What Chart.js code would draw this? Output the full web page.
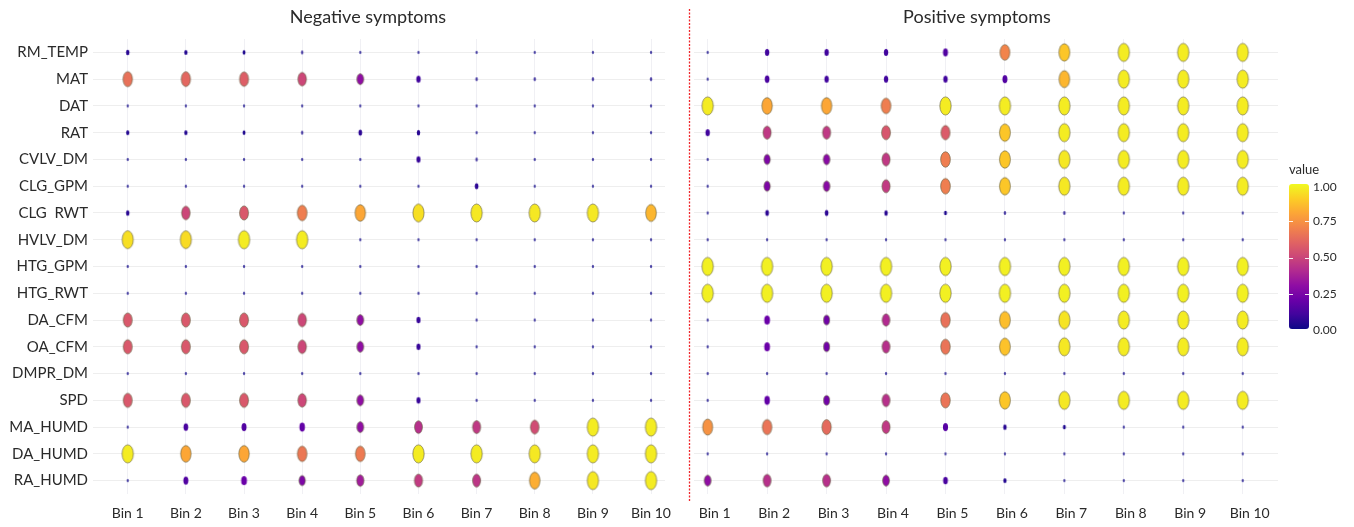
<!DOCTYPE html>
<html>
<head>
<meta charset="utf-8">
<script src="https://cdn.jsdelivr.net/npm/chart.js@4.4.1/dist/chart.umd.min.js"></script>
<style>
  html, body { margin: 0; padding: 0; background: #ffffff; }
  #wrap { position: relative; width: 1354px; height: 527px; }
  #wrap canvas { position: absolute; left: 0; top: 0; }
</style>
</head>
<body>
<div id="wrap">
  <canvas id="neg" width="1354" height="527"></canvas>
  <canvas id="pos" width="1354" height="527"></canvas>
</div>
<script>
// Bins along the x axis and monitored signals down the y axis
const bins = ['Bin 1', 'Bin 2', 'Bin 3', 'Bin 4', 'Bin 5', 'Bin 6', 'Bin 7', 'Bin 8', 'Bin 9', 'Bin 10'];
const features = ['RM_TEMP', 'MAT', 'DAT', 'RAT', 'CVLV_DM', 'CLG_GPM', 'CLG  RWT', 'HVLV_DM',
  'HTG_GPM', 'HTG_RWT', 'DA_CFM', 'OA_CFM', 'DMPR_DM', 'SPD', 'MA_HUMD', 'DA_HUMD', 'RA_HUMD'];
const panelTitles = ['Negative symptoms', 'Positive symptoms'];
const colorbarTicks = [0, 0.25, 0.5, 0.75, 1];

// One row per signal (same order as features), one value per bin
const negativeValues = [
  [0.05, 0.04, 0.03, 0.02, 0.01, 0.01, 0.01, 0.01, 0.01, 0.01],
  [0.64, 0.61, 0.58, 0.50, 0.30, 0.10, 0.02, 0.02, 0.02, 0.02],
  [0.01, 0.01, 0.01, 0.01, 0.01, 0.01, 0.01, 0.01, 0.01, 0.01],
  [0.04, 0.04, 0.03, 0.02, 0.06, 0.05, 0.01, 0.01, 0.01, 0.01],
  [0.01, 0.01, 0.01, 0.01, 0.01, 0.08, 0.02, 0.01, 0.01, 0.01],
  [0.01, 0.01, 0.01, 0.01, 0.01, 0.01, 0.06, 0.01, 0.01, 0.01],
  [0.05, 0.50, 0.56, 0.68, 0.80, 0.94, 0.96, 0.96, 0.96, 0.84],
  [0.94, 0.93, 0.97, 0.97, 0.01, 0.01, 0.01, 0.01, 0.01, 0.01],
  [0.01, 0.01, 0.01, 0.01, 0.01, 0.01, 0.01, 0.01, 0.01, 0.01],
  [0.01, 0.01, 0.01, 0.01, 0.01, 0.01, 0.01, 0.01, 0.01, 0.01],
  [0.56, 0.56, 0.56, 0.50, 0.30, 0.08, 0.01, 0.01, 0.01, 0.01],
  [0.56, 0.56, 0.56, 0.50, 0.30, 0.08, 0.01, 0.01, 0.01, 0.01],
  [0.01, 0.01, 0.01, 0.01, 0.01, 0.01, 0.01, 0.01, 0.01, 0.01],
  [0.56, 0.56, 0.56, 0.50, 0.30, 0.08, 0.01, 0.01, 0.01, 0.01],
  [0.01, 0.12, 0.14, 0.18, 0.30, 0.42, 0.45, 0.52, 0.97, 0.97],
  [0.97, 0.80, 0.80, 0.66, 0.67, 0.97, 0.97, 0.96, 0.97, 0.97],
  [0.01, 0.14, 0.20, 0.25, 0.35, 0.46, 0.44, 0.82, 0.96, 0.97]
];

const positiveValues = [
  [0.01, 0.10, 0.10, 0.10, 0.14, 0.70, 0.88, 0.97, 0.97, 0.97],
  [0.01, 0.12, 0.10, 0.10, 0.10, 0.14, 0.84, 0.97, 0.97, 0.97],
  [0.97, 0.80, 0.80, 0.68, 0.97, 0.97, 0.97, 0.97, 0.97, 0.97],
  [0.10, 0.45, 0.45, 0.55, 0.57, 0.88, 0.97, 0.97, 0.97, 0.97],
  [0.01, 0.25, 0.28, 0.45, 0.68, 0.88, 0.96, 0.97, 0.97, 0.97],
  [0.01, 0.25, 0.28, 0.46, 0.68, 0.88, 0.96, 0.97, 0.97, 0.97],
  [0.01, 0.06, 0.06, 0.05, 0.03, 0.02, 0.02, 0.01, 0.01, 0.01],
  [0.01, 0.01, 0.01, 0.01, 0.01, 0.01, 0.01, 0.01, 0.01, 0.01],
  [0.98, 0.98, 0.98, 0.98, 0.98, 0.98, 0.98, 0.98, 0.98, 0.98],
  [0.98, 0.98, 0.98, 0.98, 0.98, 0.98, 0.98, 0.98, 0.98, 0.98],
  [0.01, 0.20, 0.22, 0.40, 0.64, 0.86, 0.95, 0.97, 0.97, 0.97],
  [0.01, 0.20, 0.22, 0.42, 0.65, 0.87, 0.96, 0.97, 0.97, 0.97],
  [0.01, 0.01, 0.01, 0.01, 0.01, 0.01, 0.01, 0.01, 0.01, 0.01],
  [0.01, 0.18, 0.22, 0.42, 0.65, 0.88, 0.96, 0.97, 0.97, 0.97],
  [0.74, 0.65, 0.62, 0.45, 0.15, 0.05, 0.03, 0.01, 0.01, 0.01],
  [0.01, 0.01, 0.01, 0.01, 0.01, 0.01, 0.01, 0.01, 0.01, 0.01],
  [0.30, 0.42, 0.42, 0.30, 0.12, 0.04, 0.01, 0.01, 0.01, 0.01]
];

// Plasma colour map
const plasma = ['#0d0887', '#41049d', '#6a00a8', '#8f0da4', '#b12a90', '#cc4778',
  '#e16462', '#f2844b', '#fca636', '#fcce25', '#f0f921'];

function hexToRgb(h) {
  return [parseInt(h.slice(1, 3), 16), parseInt(h.slice(3, 5), 16), parseInt(h.slice(5, 7), 16)];
}
function plasmaColor(v) {
  v = Math.max(0, Math.min(1, v));
  const p = v * (plasma.length - 1);
  const i = Math.min(Math.floor(p), plasma.length - 2);
  const t = p - i;
  const a = hexToRgb(plasma[i]), b = hexToRgb(plasma[i + 1]);
  const c = a.map((x, k) => Math.round(x + (b[k] - x) * t));
  return 'rgb(' + c.join(',') + ')';
}

// Elliptical marker, size and colour both follow the value
const markerCache = {};
function marker(v) {
  const key = v.toFixed(3);
  if (markerCache[key]) return markerCache[key];
  const rx = 0.55 + 5.2 * Math.sqrt(v);
  const ry = 0.9 + 8.3 * Math.sqrt(v);
  const c = document.createElement('canvas');
  c.width = Math.ceil(rx * 2 + 3);
  c.height = Math.ceil(ry * 2 + 3);
  const g = c.getContext('2d');
  g.beginPath();
  g.ellipse(c.width / 2, c.height / 2, rx, ry, 0, 0, Math.PI * 2);
  g.fillStyle = plasmaColor(v);
  if (v < 0.03) g.globalAlpha = 0.75;
  g.fill();
  g.globalAlpha = 1;
  if (v > 0.2) {
    g.lineWidth = 1;
    g.strokeStyle = 'rgba(105,100,70,0.65)';
    g.stroke();
  }
  markerCache[key] = c;
  return c;
}

function toPoints(values) {
  const pts = [];
  values.forEach((row, r) => row.forEach((v, b) => pts.push({ x: b + 1, y: features[r], v: v })));
  return pts;
}

const FONT = 'Lato, "Open Sans", sans-serif';
const TEXT = '#2a2a2a';

// Panel title, red divider and colour bar
const decorations = {
  id: 'decorations',
  afterDraw(chart, args, opts) {
    const ctx = chart.ctx;
    ctx.save();
    ctx.fillStyle = TEXT;
    ctx.font = '18px ' + FONT;
    ctx.textAlign = 'center';
    ctx.textBaseline = 'middle';
    ctx.fillText(opts.title, opts.titleX, 17);

    if (opts.divider) {
      ctx.strokeStyle = '#f0262a';
      ctx.lineWidth = 1.3;
      ctx.setLineDash([2, 1.5]);
      ctx.beginPath();
      ctx.moveTo(689.5, 9);
      ctx.lineTo(689.5, 502);
      ctx.stroke();
      ctx.setLineDash([]);
    }

    if (opts.colorbar) {
      const x0 = 1289, w = 20, yTop = 184, yBot = 329;
      const yOf = v => 331 - 147 * v;
      const grad = ctx.createLinearGradient(0, yBot, 0, yTop);
      plasma.forEach((c, i) => grad.addColorStop(i / (plasma.length - 1), c));
      ctx.fillStyle = grad;
      ctx.beginPath();
      ctx.roundRect(x0, yTop, w, yBot - yTop, 3);
      ctx.fill();
      ctx.strokeStyle = 'rgba(255,255,255,0.9)';
      ctx.lineWidth = 1;
      colorbarTicks.forEach(t => {
        if (t === 0 || t === 1) return;
        const y = Math.round(yOf(t)) + 0.5;
        ctx.beginPath();
        ctx.moveTo(x0, y); ctx.lineTo(x0 + 4, y);
        ctx.moveTo(x0 + w - 4, y); ctx.lineTo(x0 + w, y);
        ctx.stroke();
      });
      ctx.fillStyle = TEXT;
      ctx.font = '12px ' + FONT;
      ctx.textAlign = 'left';
      colorbarTicks.forEach(t => {
        const y = Math.min(Math.max(yOf(t), 187), 330);
        ctx.fillText(t.toFixed(2), x0 + w + 4, y);
      });
      ctx.font = '13px ' + FONT;
      ctx.fillText('value', x0, 170);
    }
    ctx.restore();
  }
};

function makePanel(canvasId, values, cfg) {
  return new Chart(document.getElementById(canvasId), {
    type: 'scatter',
    data: {
      datasets: [{
        data: toPoints(values),
        pointStyle: ctx => marker(ctx.raw ? ctx.raw.v : 0),
        pointRadius: 6,
        pointHoverRadius: 6
      }]
    },
    options: {
      responsive: false,
      animation: false,
      events: [],
      layout: { padding: { top: 39, bottom: 0, left: cfg.padLeft, right: cfg.padRight } },
      plugins: {
        legend: { display: false },
        tooltip: { enabled: false },
        title: { display: false },
        decorations: cfg.deco
      },
      scales: {
        x: {
          type: 'linear',
          min: cfg.xMin,
          max: cfg.xMax,
          afterBuildTicks: s => { s.ticks = bins.map((_, i) => ({ value: i + 1 })); },
          afterFit: s => { s.height = 33; },
          ticks: {
            callback: v => bins[v - 1],
            font: { family: FONT, size: 14 },
            color: TEXT,
            padding: 11,
            labelOffset: cfg.labelOffset,
            maxRotation: 0,
            autoSkip: false
          },
          grid: { color: '#f0f0f4', lineWidth: 1, drawTicks: false },
          border: { display: false }
        },
        y: {
          type: 'category',
          labels: features,
          offset: true,
          afterFit: s => { s.width = cfg.yWidth; },
          ticks: {
            display: cfg.showY,
            font: { family: FONT, size: 15 },
            color: TEXT,
            padding: 5,
            autoSkip: false
          },
          grid: { color: '#eeeeee', lineWidth: 1, drawTicks: false, offset: false },
          border: { display: false }
        }
      }
    },
    plugins: [decorations]
  });
}

makePanel('neg', negativeValues, {
  padLeft: 0, padRight: 1354 - 665, yWidth: 93, showY: true, labelOffset: 0,
  xMin: 0.403, xMax: 10.24,
  deco: { title: panelTitles[0], titleX: 368, divider: true, colorbar: false }
});

makePanel('pos', positiveValues, {
  padLeft: 694, padRight: 1354 - 1278, yWidth: 0, showY: false, labelOffset: 7,
  xMin: 0.77, xMax: 10.594,
  deco: { title: panelTitles[1], titleX: 977, divider: false, colorbar: true }
});
</script>
</body>
</html>
